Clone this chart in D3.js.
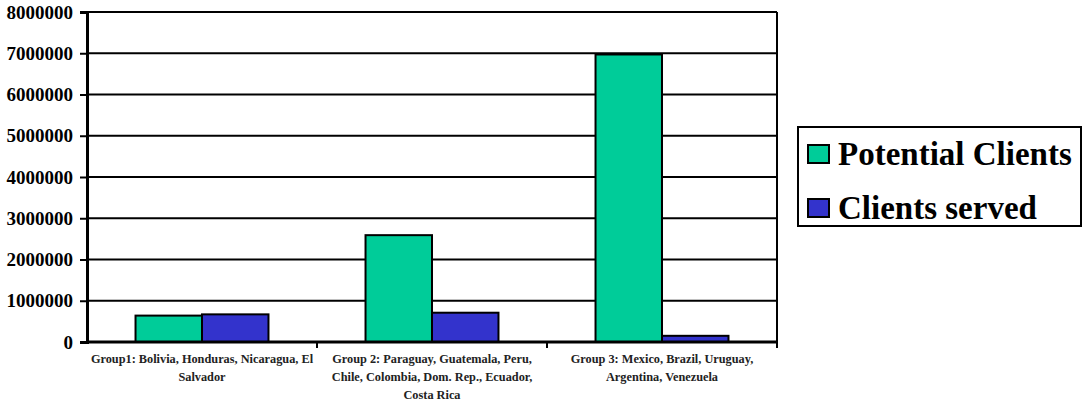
<!DOCTYPE html>
<html>
<head>
<meta charset="utf-8">
<script src="https://cdn.jsdelivr.net/npm/d3@7"></script>
<style>
  body { margin: 0; background: #fff; }
  svg { display: block; }
  svg text { font-family: 'Liberation Serif', 'Times New Roman', Times, serif !important; font-weight: bold; }
</style>
</head>
<body>
<svg id="chart" width="1083" height="402"></svg>
<script>
// chart data
const groups = ["Group1", "Group2", "Group3"];
const groupLabels = [
    ["Group1: Bolivia, Honduras, Nicaragua, El", "Salvador"],
    ["Group 2: Paraguay, Guatemala, Peru,", "Chile, Colombia, Dom. Rep., Ecuador,", "Costa Rica"],
    ["Group 3: Mexico, Brazil, Uruguay,", "Argentina, Venezuela"]
];
const seriesNames = ["Potential Clients", "Clients served"];
const potentialClients = [640000, 2590000, 6970000];
const clientsServed = [670000, 710000, 150000];
const yTicks = [0, 1000000, 2000000, 3000000, 4000000, 5000000, 6000000, 7000000, 8000000];
const colors = ["#00cc99", "#3333cc"];

const svg = d3.select("#chart");

const margin = { left: 87, right: 306, top: 12, bottom: 60 };
const width = 1083, height = 402;

let x0 = d3.scaleBand()
    .domain(groups)
    .range([margin.left, width - margin.right])
    .padding(0);

let x1 = d3.scaleBand()
    .domain(seriesNames)
    .range([0, x0.bandwidth()])
    .paddingInner(0)
    .paddingOuter(0.73);

let y = d3.scaleLinear()
    .domain([0, 8000000])
    .range([height - margin.bottom, margin.top]);

let color = d3.scaleOrdinal().domain(seriesNames).range(colors);

// gridlines
svg.append("g")
    .selectAll("line")
    .data(yTicks.slice(1))
    .enter()
    .append("line")
    .attr("x1", margin.left)
    .attr("x2", width - margin.right)
    .attr("y1", d => y(d))
    .attr("y2", d => y(d))
    .attr("stroke", "#000")
    .attr("stroke-width", 2);

// right border
svg.append("line")
    .attr("x1", width - margin.right)
    .attr("x2", width - margin.right)
    .attr("y1", y(8000000))
    .attr("y2", y(0))
    .attr("stroke", "#000")
    .attr("stroke-width", 2);

// bars
const rows = groups.map((g, i) => ({ group: g, values: [potentialClients[i], clientsServed[i]] }));

svg.append("g")
    .selectAll("g")
    .data(rows)
    .enter()
    .append("g")
    .attr("transform", d => `translate(${x0(d.group)},0)`)
    .selectAll("rect")
    .data(d => d.values.map((v, j) => ({ key: seriesNames[j], value: v })))
    .enter()
    .append("rect")
    .attr("x", d => x1(d.key))
    .attr("y", d => y(d.value))
    .attr("width", x1.bandwidth())
    .attr("height", d => y(0) - y(d.value))
    .attr("fill", d => color(d.key))
    .attr("stroke", "#000")
    .attr("stroke-width", 2);

// y axis
let yAxis = svg.append("g")
    .attr("transform", `translate(${margin.left},0)`)
    .call(d3.axisLeft(y).tickValues(yTicks).tickFormat(d3.format("d")).tickSize(7).tickPadding(7));

yAxis.select(".domain").attr("stroke-width", 3);
yAxis.selectAll(".tick line").attr("stroke-width", 2);
yAxis.selectAll("text")
    .style("font-size", "19px")
    .attr("fill", "#000");

// x axis line + ticks at category boundaries
let xAxis = svg.append("g")
    .attr("transform", `translate(0,${y(0)})`);

xAxis.append("line")
    .attr("x1", margin.left)
    .attr("x2", width - margin.right + 1)
    .attr("stroke", "#000")
    .attr("stroke-width", 3);

xAxis.selectAll(".btick")
    .data(groups)
    .enter()
    .append("line")
    .attr("class", "btick")
    .attr("x1", d => x0(d) + x0.bandwidth())
    .attr("x2", d => x0(d) + x0.bandwidth())
    .attr("y1", 0)
    .attr("y2", 6)
    .attr("stroke", "#000")
    .attr("stroke-width", 2);

xAxis.selectAll(".glabel")
    .data(groups)
    .enter()
    .append("text")
    .attr("class", "glabel")
    .attr("text-anchor", "middle")
    .style("font-size", "12.3px")
    .attr("fill", "#222")
    .attr("transform", d => `translate(${x0(d) + x0.bandwidth() / 2},21)`)
    .selectAll("tspan")
    .data((d, i) => groupLabels[i])
    .enter()
    .append("tspan")
    .attr("x", 0)
    .attr("y", (d, i) => i * 18)
    .text(d => d);

// legend
let legend = svg.append("g")
    .attr("transform", "translate(798,127)");

legend.append("rect")
    .attr("width", 283)
    .attr("height", 99)
    .attr("fill", "#fff")
    .attr("stroke", "#000")
    .attr("stroke-width", 2);

let items = legend.selectAll(".item")
    .data(seriesNames)
    .enter()
    .append("g")
    .attr("class", "item")
    .attr("transform", (d, i) => `translate(10,${18 + i * 54})`);

items.append("rect")
    .attr("width", 21)
    .attr("height", 18)
    .attr("fill", d => color(d))
    .attr("stroke", "#000")
    .attr("stroke-width", 2);

items.append("text")
    .attr("x", 30)
    .attr("y", 20)
    .style("font-size", "33px")
    .attr("fill", "#000")
    .text(d => d);
</script>
</body>
</html>
